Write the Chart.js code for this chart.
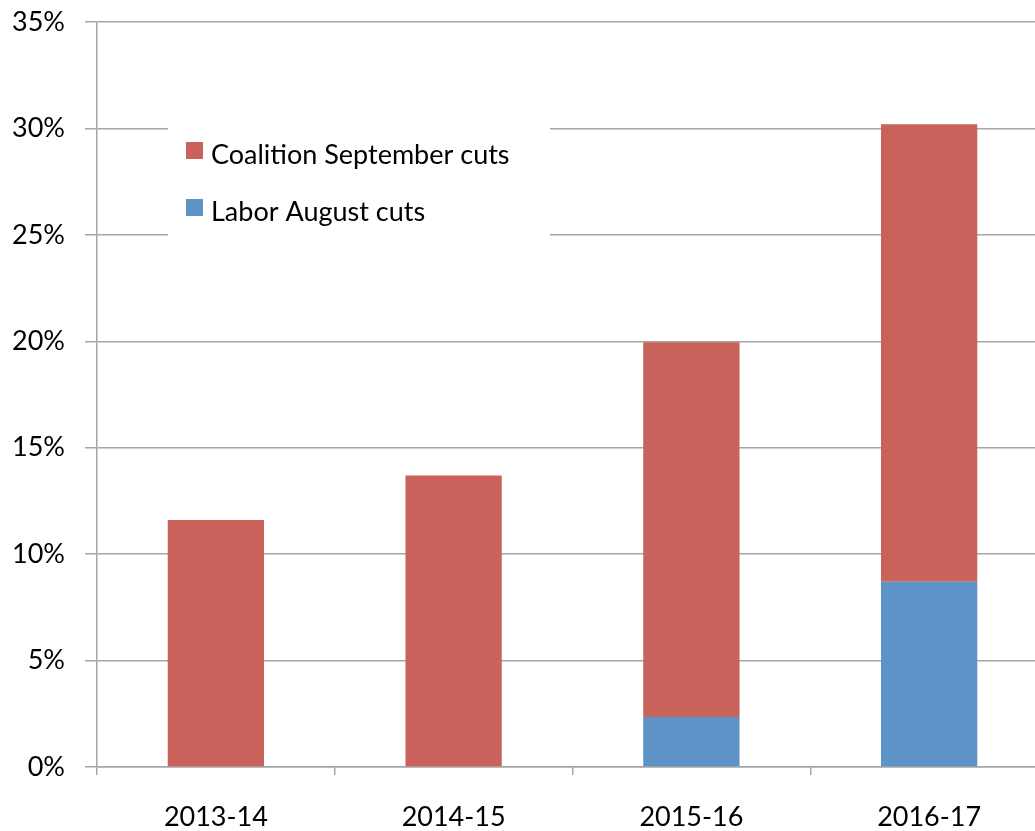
<!DOCTYPE html>
<html>
<head>
  <title>Cuts</title>
  <script src="https://cdn.jsdelivr.net/npm/chart.js"></script>
  <style>
    html, body { margin: 0; padding: 0; overflow: hidden; background: #fff; }
    #wrap { width: 1050px; height: 831px; }
  </style>
</head>
<body>
  <div id="wrap">
    <canvas id="myChart"></canvas>
  </div>
  <script>
// Data (percent)
const years = ['2013-14', '2014-15', '2015-16', '2016-17'];
const laborCuts = [0, 0, 2.35, 8.7];
const coalitionCuts = [11.6, 13.7, 17.6, 21.5];
const yTicks = [0, 5, 10, 15, 20, 25, 30, 35];

const red = '#C8625A';
const blue = '#5E93C7';
const gridGray = '#A6A6A6';
const font = { family: 'Lato', size: 27 };

// Legend box drawn inside the plot, covering the gridlines like the original
const insideLegend = {
  id: 'insideLegend',
  afterDatasetsDraw(chart) {
    const ctx = chart.ctx;
    const area = chart.chartArea;
    const x = area.left + 71;
    const y = area.top + 105;
    ctx.save();
    ctx.fillStyle = '#fff';
    ctx.fillRect(x, y, 382, 111);
    const items = chart.data.datasets.slice().reverse();
    ctx.font = font.size + 'px ' + font.family;
    ctx.textBaseline = 'middle';
    items.forEach((ds, i) => {
      const cy = y + 28 + i * 57;
      ctx.fillStyle = ds.backgroundColor;
      ctx.fillRect(x + 18, cy - 13, 17, 17);
      ctx.fillStyle = '#000';
      ctx.fillText(ds.label, x + 43, cy);
    });
    ctx.restore();
  }
};

const ctx = document.getElementById('myChart');
const chart = new Chart(ctx, {
  type: 'bar',
  data: {
    labels: years,
    datasets: [
      { label: 'Labor August cuts', data: laborCuts, backgroundColor: blue },
      { label: 'Coalition September cuts', data: coalitionCuts, backgroundColor: red }
    ]
  },
  options: {
    responsive: true,
    maintainAspectRatio: false,
    animation: false,
    layout: { padding: { top: 22, right: 2, left: 0, bottom: 0 } },
    plugins: {
      legend: { display: false },
      tooltip: { enabled: false }
    },
    datasets: {
      bar: { barPercentage: 0.405, categoryPercentage: 1 }
    },
    scales: {
      x: {
        stacked: true,
        grid: { drawOnChartArea: false, color: gridGray, lineWidth: 1.5, tickLength: 8 },
        border: { color: gridGray, width: 1.5 },
        ticks: { font: font, color: '#000', padding: 26, maxRotation: 0 },
        afterFit(scale) { scale.height = 64; scale.paddingLeft = 0; scale.paddingRight = 0; }
      },
      y: {
        stacked: true,
        min: 0,
        max: 35,
        afterBuildTicks(scale) { scale.ticks = yTicks.map(v => ({ value: v })); },
        grid: { color: gridGray, lineWidth: 1.5, tickLength: 12 },
        border: { color: gridGray, width: 1.5 },
        ticks: {
          font: font,
          color: '#000',
          padding: 20,
          callback: v => v + '%'
        },
        afterFit(scale) { scale.width = 97; scale.paddingTop = 0; scale.paddingBottom = 0; }
      }
    }
  },
  plugins: [insideLegend]
});
  </script>
</body>
</html>
